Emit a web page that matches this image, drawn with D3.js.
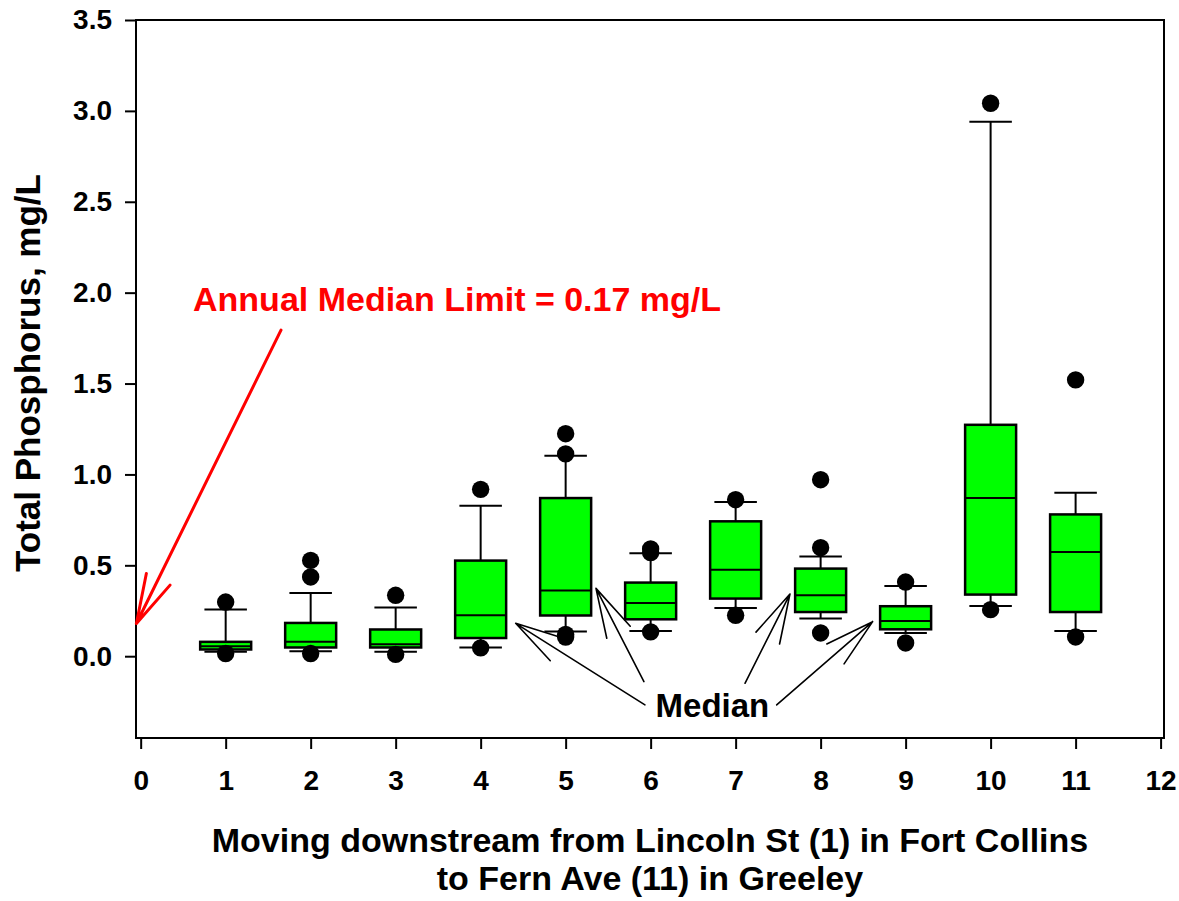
<!DOCTYPE html>
<html>
<head>
<meta charset="utf-8">
<script src="https://cdn.jsdelivr.net/npm/d3@7/dist/d3.min.js"></script>
<style>
  html, body { margin: 0; padding: 0; background: #fff; }
  svg { display: block; font-family: Arial, "Liberation Sans", sans-serif; font-weight: bold; }
</style>
</head>
<body>
<svg id="chart" width="1179" height="901"></svg>
<script>
// Total phosphorus box plots, 11 sites along the river.
const sites    = [1, 2, 3, 4, 5, 6, 7, 8, 9, 10, 11];
const whiskLo  = [0.024, 0.027, 0.024, 0.048, 0.136, 0.139, 0.265, 0.207, 0.128, 0.276, 0.139];
const q1       = [0.037, 0.048, 0.048, 0.100, 0.224, 0.203, 0.317, 0.243, 0.148, 0.339, 0.243];
const medians  = [0.055, 0.079, 0.066, 0.225, 0.361, 0.293, 0.476, 0.335, 0.194, 0.870, 0.573];
const q3       = [0.079, 0.183, 0.147, 0.526, 0.870, 0.405, 0.742, 0.482, 0.275, 1.273, 0.780];
const whiskHi  = [0.257, 0.348, 0.268, 0.828, 1.103, 0.566, 0.848, 0.549, 0.386, 2.940, 0.899];
const outliers = [
  [0.298, 0.015], [0.527, 0.436, 0.015], [0.335, 0.010], [0.918, 0.046],
  [1.224, 1.113, 0.120, 0.105], [0.590, 0.570, 0.134], [0.861, 0.225],
  [0.971, 0.597, 0.128], [0.408, 0.073], [3.042, 0.256], [1.520, 0.106],
];
const xTicks = d3.range(0, 13);
const yTicks = [0, 0.5, 1.0, 1.5, 2.0, 2.5, 3.0, 3.5];

// annotation anchors, in data units
const limitLabel = { x: 0.616, y: 1.90, text: "Annual Median Limit = 0.17 mg/L" };
const limitArrow = { from: [1.651, 1.794], to: [-0.05, 0.18] };
const medianLabel = { x: 6.727, y: -0.333, text: "Median" };
const medianArrows = [
  { from: [5.933, -0.268], to: [4.412, 0.181] },
  { from: [5.921, -0.140], to: [5.357, 0.373] },
  { from: [7.110, -0.149], to: [7.639, 0.342] },
  { from: [7.483, -0.268], to: [8.612, 0.190] },
];

const GREEN = "#00ff00", RED = "#ff0000";
const L = 136, R = 1164, T = 20, B = 738;

const svg = d3.select("#chart");
const x = d3.scaleLinear().domain([-0.055, 12.04]).range([L, R]);
const y = d3.scaleLinear().domain([-0.45, 3.5]).range([B, T]);

const boxes = sites.map((s, i) => ({
  s, lo: whiskLo[i], q1: q1[i], med: medians[i], q3: q3[i], hi: whiskHi[i], out: outliers[i],
}));

// ---------- axes ----------
const yAxis = svg.append("g").attr("transform", `translate(${L},0)`)
  .call(d3.axisLeft(y).tickValues(yTicks).tickFormat(d3.format(".1f")).tickSize(11).tickPadding(13));
const xAxis = svg.append("g").attr("transform", `translate(0,${B})`)
  .call(d3.axisBottom(x).tickValues(xTicks).tickFormat(d3.format("d")).tickSize(11));
[yAxis, xAxis].forEach(g => {
  g.attr("font-size", null).attr("font-family", null);
  g.select(".domain").remove();
  g.selectAll("line").attr("stroke", "#000").attr("stroke-width", 2);
  g.selectAll("text").attr("fill", "#000").style("font-size", "28px").style("font-weight", "bold");
});
xAxis.selectAll("text").attr("y", 52).attr("dy", null);

svg.append("rect").attr("x", L).attr("y", T).attr("width", R - L).attr("height", B - T)
  .attr("fill", "none").attr("stroke", "#000").attr("stroke-width", 2);

// ---------- boxes ----------
const bw = x(0.3) - x(0), cw = x(0.25) - x(0);
const g = svg.append("g").selectAll("g").data(boxes).join("g");

g.append("line").attr("x1", d => x(d.s)).attr("x2", d => x(d.s))
  .attr("y1", d => y(d.q3)).attr("y2", d => y(d.hi))
  .attr("stroke", "#000").attr("stroke-width", 2);
g.append("line").attr("x1", d => x(d.s)).attr("x2", d => x(d.s))
  .attr("y1", d => y(d.q1)).attr("y2", d => y(d.lo))
  .attr("stroke", "#000").attr("stroke-width", 2);
["hi", "lo"].forEach(k => {
  g.append("line").attr("x1", d => x(d.s) - cw).attr("x2", d => x(d.s) + cw)
    .attr("y1", d => y(d[k])).attr("y2", d => y(d[k]))
    .attr("stroke", "#000").attr("stroke-width", 2);
});
g.append("rect")
  .attr("x", d => x(d.s) - bw).attr("width", bw * 2)
  .attr("y", d => y(d.q3)).attr("height", d => y(d.q1) - y(d.q3))
  .attr("fill", GREEN).attr("stroke", "#000").attr("stroke-width", 2.5);
g.append("line").attr("x1", d => x(d.s) - bw).attr("x2", d => x(d.s) + bw)
  .attr("y1", d => y(d.med)).attr("y2", d => y(d.med))
  .attr("stroke", "#000").attr("stroke-width", 2);
g.selectAll("circle").data(d => d.out.map(v => ({ s: d.s, v }))).join("circle")
  .attr("cx", d => x(d.s)).attr("cy", d => y(d.v)).attr("r", 8.7).attr("fill", "#000");

// ---------- annotations ----------
function arrow(a, color, width) {
  const [x1, y1] = [x(a.from[0]), y(a.from[1])], [x2, y2] = [x(a.to[0]), y(a.to[1])];
  const ang = Math.atan2(y1 - y2, x1 - x2), len = 51, spread = 15 * Math.PI / 180;
  const p = d3.path();
  p.moveTo(x1, y1); p.lineTo(x2, y2);
  [-spread, spread].forEach(s => {
    p.moveTo(x2, y2);
    p.lineTo(x2 + len * Math.cos(ang + s), y2 + len * Math.sin(ang + s));
  });
  svg.append("path").attr("d", p.toString()).attr("fill", "none")
    .attr("stroke", color).attr("stroke-width", width).attr("stroke-linecap", "round");
}
arrow(limitArrow, RED, 3);
medianArrows.forEach(a => arrow(a, "#000", 1.6));

svg.append("text").attr("x", x(limitLabel.x)).attr("y", y(limitLabel.y))
  .attr("fill", RED).style("font-size", "34px").text(limitLabel.text);
svg.append("text").attr("x", x(medianLabel.x)).attr("y", y(medianLabel.y))
  .attr("text-anchor", "middle").attr("fill", "#000").style("font-size", "33px").text(medianLabel.text);

// ---------- titles ----------
svg.append("text").attr("transform", `translate(40,${(T + B) / 2 - 6}) rotate(-90)`)
  .attr("text-anchor", "middle").style("font-size", "35px").text("Total Phosphorus, mg/L");
const xt = svg.append("text").attr("x", (L + R) / 2).attr("text-anchor", "middle").style("font-size", "34px");
xt.append("tspan").attr("x", (L + R) / 2).attr("y", 852).text("Moving downstream from Lincoln St (1) in Fort Collins");
xt.append("tspan").attr("x", (L + R) / 2).attr("y", 890).text("to Fern Ave (11) in Greeley");
</script>
</body>
</html>
